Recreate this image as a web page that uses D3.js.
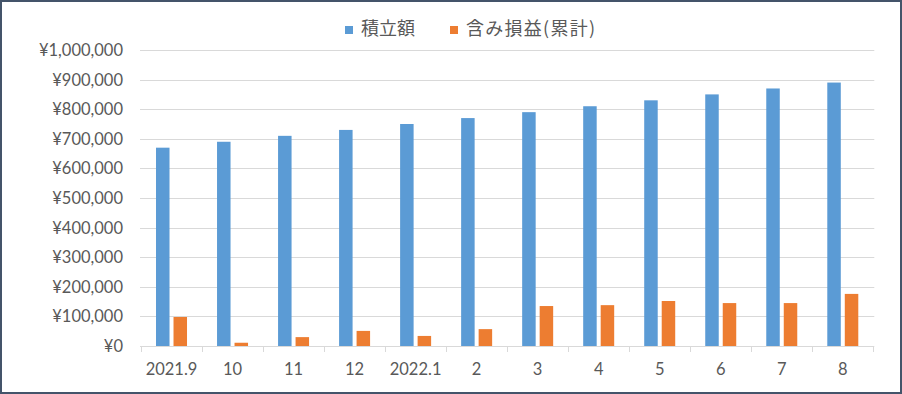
<!DOCTYPE html>
<html>
<head>
<meta charset="utf-8">
<script src="https://cdn.jsdelivr.net/npm/d3@7"></script>
<style>
  html, body { margin: 0; padding: 0; background: #fff; }
  svg { display: block; }
</style>
</head>
<body>
<svg id="chart" width="902" height="394"></svg>
<script>
const categories = ["2021.9", "10", "11", "12", "2022.1", "2", "3", "4", "5", "6", "7", "8"];
const seriesNames = ["積立額", "含み損益(累計)"];
const savings = [670000, 690000, 710000, 730000, 750000, 770000, 790000, 810000, 830000, 850000, 870000, 890000];
const gains = [98000, 11000, 30000, 51000, 34000, 57000, 135000, 138000, 152000, 145000, 145000, 176000];
const yTicks = [0, 100000, 200000, 300000, 400000, 500000, 600000, 700000, 800000, 900000, 1000000];
const colors = ["#5B9BD5", "#ED7D31"];

const svg = d3.select("#chart");
const W = 902, H = 394;
const numFont = "Lato, 'Liberation Sans', sans-serif";
const cjkFont = "'Noto Sans CJK JP', sans-serif";
const textColor = "#595959";

// border
svg.append("rect")
  .attr("x", 1).attr("y", 1).attr("width", W - 2).attr("height", H - 2)
  .attr("fill", "#fff").attr("stroke", "#44546A").attr("stroke-width", 2);

const plot = { left: 141, right: 873.3, top: 50, bottom: 346 };

const x = d3.scaleBand().domain(categories).range([plot.left, plot.right]).paddingInner(0).paddingOuter(0);
const y = d3.scaleLinear().domain([0, 1000000]).range([plot.bottom, plot.top]);

// gridlines
const fmt = v => "¥" + d3.format(",")(v);
svg.append("g").selectAll("line").data(yTicks).join("line")
  .attr("x1", plot.left - 1).attr("x2", plot.right + 1)
  .attr("y1", d => Math.round(y(d)) + 0.5).attr("y2", d => Math.round(y(d)) + 0.5)
  .attr("stroke", "#D9D9D9").attr("stroke-width", 1);

// y labels
svg.append("g").selectAll("text").data(yTicks).join("text")
  .attr("x", 123).attr("y", d => y(d))
  .attr("dy", "0.36em")
  .attr("text-anchor", "end")
  .attr("font-family", numFont).attr("font-size", 16.5)
  .attr("fill", textColor)
  .text(fmt);

// x-axis ticks at boundaries
const bounds = categories.map(c => x(c)).concat([plot.right]);
svg.append("g").selectAll("line").data(bounds).join("line")
  .attr("x1", d => Math.round(d) + 0.5).attr("x2", d => Math.round(d) + 0.5)
  .attr("y1", plot.bottom).attr("y2", plot.bottom + 6)
  .attr("stroke", "#D9D9D9").attr("stroke-width", 1);

// bars
const barW = 13.5, gap = 4;
const inner = d3.scaleOrdinal().domain([0, 1]).range([(x.bandwidth() - (2 * barW + gap)) / 2, (x.bandwidth() - (2 * barW + gap)) / 2 + barW + gap]);
const data = [savings, gains];
data.forEach((vals, si) => {
  svg.append("g").selectAll("rect").data(vals).join("rect")
    .attr("x", (d, i) => x(categories[i]) + inner(si))
    .attr("y", d => y(d))
    .attr("width", barW)
    .attr("height", d => plot.bottom - y(d))
    .attr("fill", colors[si]);
});

// x labels
svg.append("g").selectAll("text").data(categories).join("text")
  .attr("x", d => x(d) + x.bandwidth() / 2)
  .attr("y", 375)
  .attr("text-anchor", "middle")
  .attr("font-family", numFont).attr("font-size", 16.5)
  .attr("fill", textColor)
  .text(d => d);

// legend
const legend = svg.append("g");
const legendItems = [{ name: seriesNames[0], sx: 345, tx: 361, len: 54 }, { name: seriesNames[1], sx: 450, tx: 466, len: 129 }];
legendItems.forEach((it, i) => {
  legend.append("rect").attr("x", it.sx).attr("y", 26).attr("width", 8).attr("height", 8).attr("fill", colors[i]);
  legend.append("text").attr("x", it.tx).attr("y", 29).attr("dy", "0.36em")
    .attr("font-family", cjkFont).attr("font-size", 18).attr("fill", textColor)
    .attr("textLength", it.len).attr("lengthAdjust", "spacing")
    .text(it.name);
});
</script>
</body>
</html>
